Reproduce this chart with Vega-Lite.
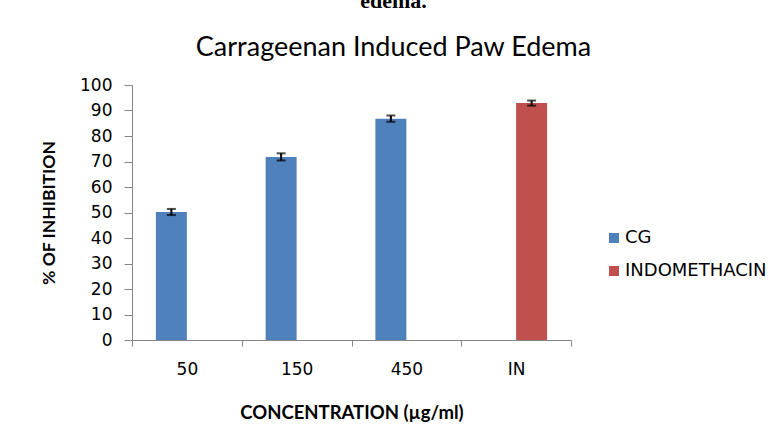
{
  "$schema": "https://vega.github.io/schema/vega-lite/v6.json",
  "autosize": {"type": "none"},
  "padding": {"left": 132, "top": 85, "right": 207, "bottom": 100},
  "width": 439,
  "height": 255,
  "background": "white",
  "title": {
    "text": "edema.",
    "subtitle": "Carrageenan Induced Paw Edema",
    "font": "Liberation Serif",
    "fontWeight": "bold",
    "fontSize": 22,
    "color": "black",
    "subtitleFont": "Lato",
    "subtitleFontSize": 27,
    "subtitleColor": "black",
    "subtitlePadding": 22,
    "anchor": "middle",
    "frame": "group",
    "dx": 42,
    "offset": 14
  },
  "data": {
    "values": [
      {"conc": "50", "group": "CG", "inhibition": 50.2, "lo": 49.0, "hi": 51.4},
      {"conc": "150", "group": "CG", "inhibition": 71.8, "lo": 70.4, "hi": 73.2},
      {"conc": "450", "group": "CG", "inhibition": 86.8, "lo": 85.6, "hi": 88.0},
      {"conc": "IN", "group": "INDOMETHACIN", "inhibition": 92.9, "lo": 91.9, "hi": 93.9}
    ]
  },
  "encoding": {
    "x": {
      "field": "conc",
      "type": "nominal",
      "sort": ["50", "150", "450", "IN"],
      "scale": {"paddingInner": 0, "paddingOuter": 0},
      "axis": {
        "title": "CONCENTRATION (µg/ml)",
        "labelAngle": 0,
        "tickBand": "extent",
        "tickSize": 6,
        "tickColor": "#868686",
        "domainColor": "#868686",
        "labelFont": "DejaVu Sans",
        "labelFontSize": 17,
        "labelColor": "black",
        "labelPadding": 15,
        "titleFont": "Lato",
        "titleFontWeight": "bold",
        "titleFontSize": 18.5,
        "titleColor": "black",
        "titleY": 72,
        "titleBaseline": "middle"
      }
    },
    "xOffset": {
      "field": "group",
      "type": "nominal",
      "scale": {"domain": ["CG", "INDOMETHACIN"], "paddingInner": 0, "paddingOuter": 0.77}
    }
  },
  "layer": [
    {
      "mark": {"type": "bar"},
      "encoding": {
        "y": {
          "field": "inhibition",
          "type": "quantitative",
          "scale": {"domain": [0, 100], "nice": false},
          "axis": {"title": "% OF INHIBITION", "values": [0, 10, 20, 30, 40, 50, 60, 70, 80, 90, 100]}
        },
        "color": {
          "field": "group",
          "type": "nominal",
          "scale": {"domain": ["CG", "INDOMETHACIN"], "range": ["#4F81BD", "#C0504D"]},
          "legend": {
            "title": null,
            "orient": "none",
            "legendX": 473,
            "legendY": 144,
            "padding": 0,
            "symbolType": "square",
            "symbolSize": 100,
            "symbolStrokeWidth": 0,
            "symbolOpacity": 1,
            "labelFont": "DejaVu Sans",
            "labelFontSize": 18,
            "labelColor": "black",
            "labelOffset": 2,
            "rowPadding": 15
          }
        }
      }
    },
    {
      "mark": {"type": "rule", "color": "black", "strokeWidth": 2},
      "encoding": {
        "y": {"field": "lo", "type": "quantitative", "axis": {"title": "% OF INHIBITION", "values": [0, 10, 20, 30, 40, 50, 60, 70, 80, 90, 100]}},
        "y2": {"field": "hi"}
      }
    },
    {
      "mark": {"type": "tick", "color": "black", "thickness": 2, "size": 9},
      "encoding": {"y": {"field": "lo", "type": "quantitative", "axis": {"title": "% OF INHIBITION", "values": [0, 10, 20, 30, 40, 50, 60, 70, 80, 90, 100]}}}
    },
    {
      "mark": {"type": "tick", "color": "black", "thickness": 2, "size": 9},
      "encoding": {"y": {"field": "hi", "type": "quantitative", "axis": {"title": "% OF INHIBITION", "values": [0, 10, 20, 30, 40, 50, 60, 70, 80, 90, 100]}}}
    }
  ],
  "config": {
    "view": {"stroke": null},
    "axisY": {
      "labelOverlap": false,
      "grid": false,
      "tickSize": 8,
      "tickColor": "#868686",
      "domainColor": "#868686",
      "labelFont": "DejaVu Sans",
      "labelFontSize": 17,
      "labelColor": "black",
      "labelPadding": 12,
      "titleFont": "Lato",
      "titleFontWeight": "bold",
      "titleFontSize": 17.5,
      "titleColor": "black",
      "titleX": -83,
      "titleY": 127.5,
      "titleAngle": -90,
      "titleAlign": "center",
      "titleBaseline": "middle"
    }
  }
}
